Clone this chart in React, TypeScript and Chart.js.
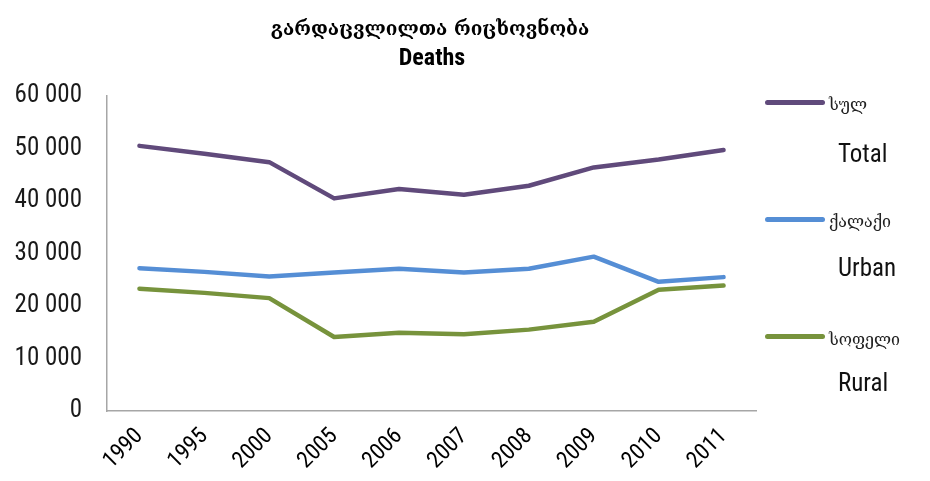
import React, { useEffect, useRef } from "react";
import { Chart, registerables } from "chart.js";

Chart.register(...registerables);

const titleGe = "გარდაცვლილთა რიცხოვნობა";
const titleEn = "Deaths";
const years = ["1990", "1995", "2000", "2005", "2006", "2007", "2008", "2009", "2010", "2011"];
const totalDeaths = [50500, 49000, 47400, 40500, 42300, 41200, 42900, 46400, 47900, 49700];
const urbanDeaths = [27200, 26500, 25600, 26400, 27100, 26400, 27100, 29400, 24600, 25500];
const ruralDeaths = [23300, 22500, 21500, 14100, 14900, 14600, 15500, 17000, 23100, 23900];
const seriesGe = ["სულ", "ქალაქი", "სოფელი"];
const seriesEn = ["Total", "Urban", "Rural"];
const yTicks = [0, 10000, 20000, 30000, 40000, 50000, 60000];

const colors = ["#604A7B", "#558ED5", "#77933C"];
const narrow = "'Roboto Condensed', 'Liberation Sans Narrow', 'Liberation Sans', Arial, sans-serif";
const georgian = "'DejaVu Serif', 'DejaVu Sans', serif";

export default function App() {
  const ref = useRef<HTMLCanvasElement>(null);
  useEffect(() => {
    if (!ref.current) return;
    const data = [totalDeaths, urbanDeaths, ruralDeaths];
    const chart = new Chart(ref.current, {
      type: "line",
      data: {
        labels: years,
        datasets: data.map((d, i) => ({
          label: seriesEn[i],
          data: d,
          borderColor: colors[i],
          backgroundColor: colors[i],
          borderWidth: 4.5,
          pointRadius: 0,
          tension: 0,
          borderCapStyle: "round" as const,
          borderJoinStyle: "round" as const,
        })),
      },
      options: {
        responsive: false,
        animation: false,
        layout: { padding: { top: 96, right: 174, left: 0, bottom: 0 } },
        plugins: { legend: { display: false }, title: { display: false }, tooltip: { enabled: false } },
        scales: {
          x: {
            type: "category",
            offset: true,
            grid: { display: false, drawTicks: false },
            border: { display: true, color: "#A6A6A6", width: 1.5 },
            ticks: {
              color: "#000",
              font: { family: narrow, size: 23 },
              minRotation: 45,
              maxRotation: 45,
              padding: 12,
              autoSkip: false,
            },
            afterFit: (s: any) => { s.height = 70; },
          },
          y: {
            min: 0,
            max: 60000,
            grid: { display: false, drawTicks: false },
            border: { display: true, color: "#A6A6A6", width: 1.5 },
            afterBuildTicks: (s: any) => { s.ticks = yTicks.map((v) => ({ value: v })); },
            ticks: {
              color: "#1a1a1a",
              font: { family: narrow, size: 25 },
              padding: 25,
              callback: (v: any) => {
                const n = Number(v);
                return n === 0 ? "0" : `${Math.floor(n / 1000)} 000`;
              },
            },
            afterFit: (s: any) => { s.width = 107; },
          },
        },
      },
    });
    return () => chart.destroy();
  }, []);

  const legendRows = [
    { line: 102, ge: 105, en: 154 },
    { line: 219, ge: 222, en: 268 },
    { line: 336, ge: 340, en: 383 },
  ];

  return (
    <div style={{ position: "fixed", left: 0, top: 0, width: 930, height: 481, background: "#fff", overflow: "hidden" }}>
      <canvas ref={ref} width={930} height={481} style={{ position: "absolute", left: 0, top: 0, width: 930, height: 481 }} />
      <div style={{ position: "absolute", left: 230, width: 400, top: 15, textAlign: "center", fontFamily: georgian, fontWeight: "bold", fontSize: 19, lineHeight: "26px", color: "#000" }}>
        {titleGe}
      </div>
      <div style={{ position: "absolute", left: 232, width: 400, top: 43, textAlign: "center", fontFamily: narrow, fontWeight: "bold", fontSize: 24, lineHeight: "28px", color: "#000" }}>
        {titleEn}
      </div>
      {legendRows.map((r, i) => (
        <React.Fragment key={i}>
          <div style={{ position: "absolute", left: 765, top: r.line - 2.5, width: 60, height: 5, borderRadius: 3, background: colors[i] }} />
          <div style={{ position: "absolute", left: 829, top: r.ge - 11, lineHeight: "22px", fontFamily: georgian, fontSize: 16, color: "#222" }}>
            {seriesGe[i]}
          </div>
          <div style={{ position: "absolute", left: 838, top: r.en - 14, lineHeight: "28px", fontFamily: narrow, fontSize: 25, color: "#111" }}>
            {seriesEn[i]}
          </div>
        </React.Fragment>
      ))}
    </div>
  );
}
